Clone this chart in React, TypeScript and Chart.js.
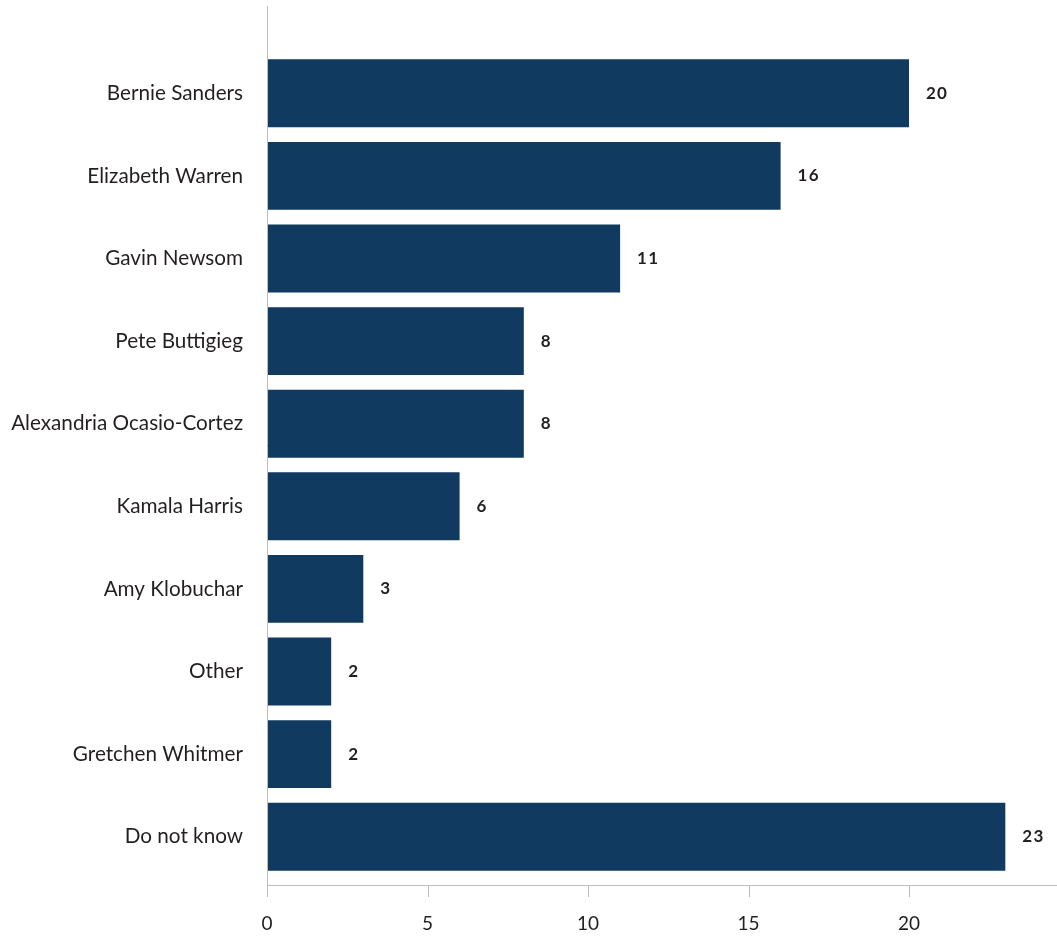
import React, { useEffect, useRef } from "react";
import { Chart, registerables } from "chart.js";

Chart.register(...registerables);

const categories = [
  "Bernie Sanders",
  "Elizabeth Warren",
  "Gavin Newsom",
  "Pete Buttigieg",
  "Alexandria Ocasio-Cortez",
  "Kamala Harris",
  "Amy Klobuchar",
  "Other",
  "Gretchen Whitmer",
  "Do not know",
];
const values = [20, 16, 11, 8, 8, 6, 3, 2, 2, 23];
const xTicks = [0, 5, 10, 15, 20];

const BAR_COLOR = "#103a5f";
const AXIS_COLOR = "#bdbdbd";
const TEXT_COLOR = "#231f20";

const axesPlugin = {
  id: "customAxes",
  afterDraw(chart: any) {
    const { ctx, chartArea, scales } = chart;
    const x0 = scales.x.getPixelForValue(0);
    const axisY = chartArea.bottom + 6.7;
    ctx.save();
    ctx.strokeStyle = AXIS_COLOR;
    ctx.lineWidth = 1;
    ctx.beginPath();
    ctx.moveTo(Math.round(x0) + 0.5, 6);
    ctx.lineTo(Math.round(x0) + 0.5, Math.round(axisY));
    ctx.moveTo(x0, Math.round(axisY) + 0.5);
    ctx.lineTo(chart.width, Math.round(axisY) + 0.5);
    xTicks.forEach((t) => {
      const px = Math.round(scales.x.getPixelForValue(t)) + 0.5;
      ctx.moveTo(px, Math.round(axisY));
      ctx.lineTo(px, Math.round(axisY) + 12);
    });
    ctx.stroke();
    ctx.restore();
  },
};

const labelPlugin = {
  id: "barLabels",
  afterDatasetsDraw(chart: any) {
    const { ctx } = chart;
    const meta = chart.getDatasetMeta(0);
    ctx.save();
    ctx.font = "bold 17px Lato";
    (ctx as any).letterSpacing = "1.2px";
    ctx.fillStyle = TEXT_COLOR;
    ctx.textAlign = "left";
    ctx.textBaseline = "middle";
    meta.data.forEach((bar: any, i: number) => {
      ctx.fillText(String(values[i]), bar.x + 17, bar.y);
    });
    ctx.restore();
  },
};

export default function App() {
  const ref = useRef<HTMLCanvasElement>(null);
  useEffect(() => {
    document.body.style.margin = "0";
    const chart = new Chart(ref.current!, {
      type: "bar",
      data: {
        labels: categories,
        datasets: [
          {
            data: values,
            backgroundColor: BAR_COLOR,
            barPercentage: 1,
            categoryPercentage: 0.8226,
          },
        ],
      },
      options: {
        indexAxis: "y",
        animation: false,
        responsive: false,
        layout: { padding: { top: 52, left: 0, right: 0, bottom: 0 } },
        plugins: { legend: { display: false }, tooltip: { enabled: false } },
        scales: {
          x: {
            min: 0,
            max: 24.61,
            afterFit: (s: any) => {
              s.height = 58;
            },
            afterBuildTicks: (s: any) => {
              s.ticks = xTicks.map((v) => ({ value: v }));
            },
            grid: { display: false, drawTicks: false },
            border: { display: false },
            ticks: {
              padding: 34,
              color: TEXT_COLOR,
              font: { family: "Lato", size: 19 },
            },
          },
          y: {
            afterFit: (s: any) => {
              s.width = 267;
            },
            grid: { display: false, drawTicks: false },
            border: { display: false },
            ticks: {
              padding: 24,
              color: TEXT_COLOR,
              font: { family: "Lato", size: 20.7 },
            },
          },
        },
      },
      plugins: [axesPlugin, labelPlugin],
    });
    return () => chart.destroy();
  }, []);
  return (
    <div style={{ position: "absolute", left: 0, top: 0, width: 1057, height: 936 }}>
      <canvas ref={ref} width={1057} height={936} style={{ width: 1057, height: 936 }} />
    </div>
  );
}
